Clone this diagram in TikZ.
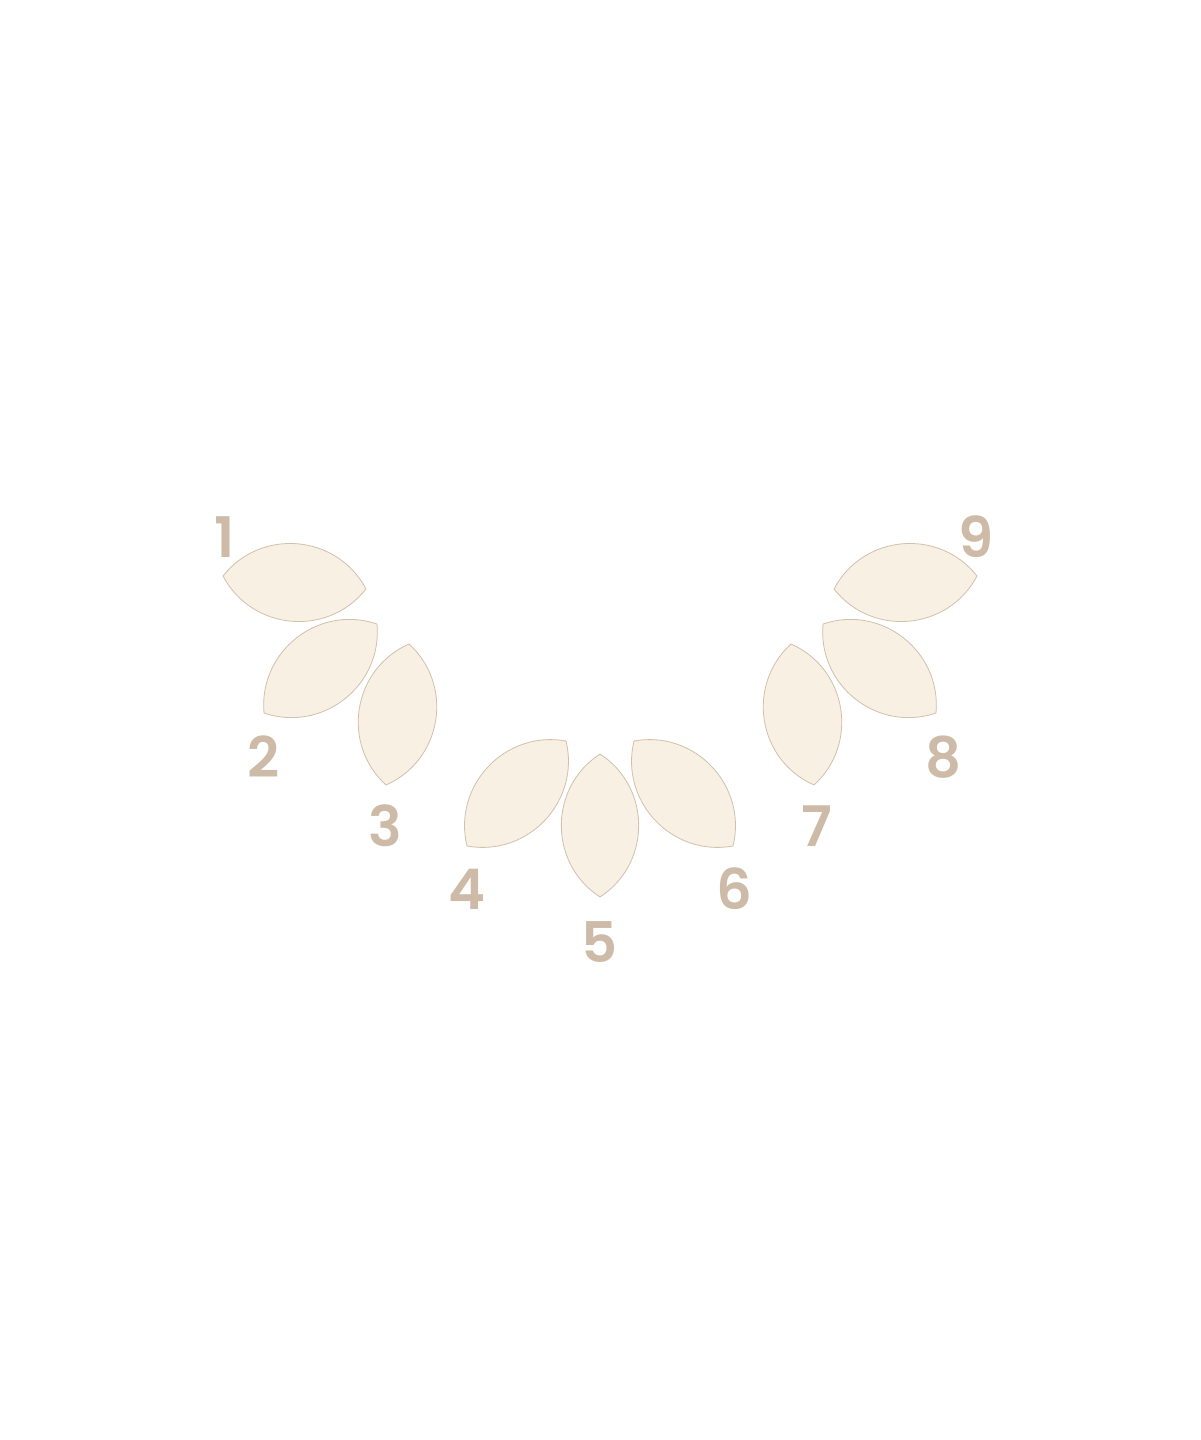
\documentclass[tikz,border=0pt]{standalone}
\usepackage{fontspec}
\IfFontExistsTF{Poppins SemiBold}{%
  \setmainfont{Poppins}[BoldFont={Poppins SemiBold}]}{%
  \setmainfont{Poppins}}
\usetikzlibrary{calc}
\definecolor{petalfill}{HTML}{F8F0E2}
\definecolor{petaledge}{HTML}{D2BFAD}
\definecolor{numcol}{HTML}{CDBBA8}
\tikzset{
  petalstyle/.style={fill=petalfill, draw=petaledge, line width=0.8bp, line join=miter},
  numlabel/.style={text=numcol, font=\fontsize{56bp}{60bp}\selectfont\bfseries, inner sep=0pt, anchor=center}
}
\newcommand\mypetal[2]{%
  \path[petalstyle] (#1) .. controls ($(#1)!0.43!57:(#2)$) and ($(#2)!0.43!-57:(#1)$) .. (#2)
    .. controls ($(#2)!0.43!57:(#1)$) and ($(#1)!0.43!-57:(#2)$) .. (#1) -- cycle;}
\begin{document}
\begin{tikzpicture}[x=1bp,y=-1bp]
\useasboundingbox (0,0) rectangle (1200,1440);
% tips
\coordinate (a1) at (223,576); \coordinate (b1) at (366,589);
\coordinate (a2) at (377,624); \coordinate (b2) at (264,713);
\coordinate (a3) at (409,644); \coordinate (b3) at (386,785);
\coordinate (a4) at (566,741); \coordinate (b4) at (467,846);
\coordinate (a5) at (600,754); \coordinate (b5) at (600,897);
\coordinate (a6) at (634,741); \coordinate (b6) at (733,846);
\coordinate (a7) at (791,644); \coordinate (b7) at (814,785);
\coordinate (a8) at (823,624); \coordinate (b8) at (936,713);
\coordinate (a9) at (834,589); \coordinate (b9) at (977,576);
\foreach \i in {1,...,9}{\mypetal{a\i}{b\i}}
% labels
\node[numlabel] (n1) at (225,537) {1};
\node[numlabel] (n2) at (264,757) {2};
\node[numlabel] (n3) at (385,826) {3};
\node[numlabel] (n4) at (467,889) {4};
\node[numlabel] (n5) at (600,942) {5};
\node[numlabel] (n6) at (734,889) {6};
\node[numlabel] (n7) at (817,826) {7};
\node[numlabel] (n8) at (943,757) {8};
\node[numlabel] (n9) at (976,537) {9};
\end{tikzpicture}
\end{document}
